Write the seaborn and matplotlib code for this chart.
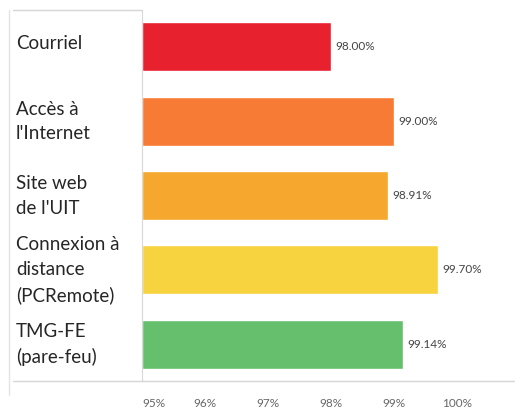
import matplotlib
matplotlib.use("Agg")
import matplotlib.pyplot as plt
import matplotlib.transforms as mtransforms
from matplotlib.lines import Line2D
import seaborn as sns
import pandas as pd

# data
services = ["Courriel", "Accès à\nl'Internet", "Site web\nde l'UIT",
            "Connexion à\ndistance\n(PCRemote)", "TMG-FE\n(pare-feu)"]
dispo = [98.00, 99.00, 98.91, 99.70, 99.14]
couleurs = ["#E8212F", "#F77A35", "#F6A72D", "#F7D340", "#66BF6D"]
ticks = [95, 96, 97, 98, 99, 100]
tick_labels = ["95%", "96%", "97%", "98%", "99%", "100%"]

df = pd.DataFrame({"service": services, "dispo": dispo})

sns.set_style("white")
plt.rcParams["font.family"] = ["Lato", "DejaVu Sans"]

fig = plt.figure(figsize=(5.15, 4.09), dpi=100)
ax = fig.add_axes([0.276, 0.068, 0.724, 0.908])

sns.barplot(data=df, x="dispo", y="service", hue="service", palette=couleurs,
            orient="h", width=0.66, legend=False, ax=ax, saturation=1)
# bars start at the left edge of the axis (95%)
for p in ax.patches:
    x0 = p.get_x()
    w = p.get_width()
    p.set_x(95)
    p.set_width(x0 + w - 95)

ax.set_xlim(95, 100.92)
ax.set_ylim(4.5, -0.5)
ax.set_xlabel("")
ax.set_ylabel("")

ax.set_xticks(ticks)
ax.set_xticklabels(tick_labels, fontsize=8.5, color="#666666")
ax.get_xticklabels()[0].set_ha("left")
ax.tick_params(axis="x", length=3, color="#d0d0d0", pad=9)
ax.tick_params(axis="y", length=0, pad=91)
shift = mtransforms.ScaledTranslation(0, 5 / 100, fig.dpi_scale_trans)
for lab in ax.get_yticklabels():
    lab.set_ha("left")
    lab.set_fontsize(13.5)
    lab.set_color("#262626")
    lab.set_linespacing(1.55)
    lab.set_transform(lab.get_transform() + shift)

for sp in ["top", "right"]:
    ax.spines[sp].set_visible(False)
ax.spines["left"].set_color("#d8d8d8")
ax.spines["bottom"].set_visible(False)

# value labels
for i, v in enumerate(dispo):
    ax.text(v + 0.07, i, f"{v:.2f}%", va="center", ha="left",
            fontsize=8.5, color="#444444")

# frame lines of the table
fig.add_artist(Line2D([13 / 515, 1], [1 - 381 / 409] * 2, color="#d6d6d6", lw=1))
fig.add_artist(Line2D([13 / 515, 142 / 515], [1 - 10 / 409] * 2, color="#d6d6d6", lw=1))
fig.add_artist(Line2D([9 / 515] * 2, [1 - 395 / 409, 1 - 10 / 409], color="#e4e4e4", lw=1))

fig.savefig("out.png", dpi=100, facecolor="white")
